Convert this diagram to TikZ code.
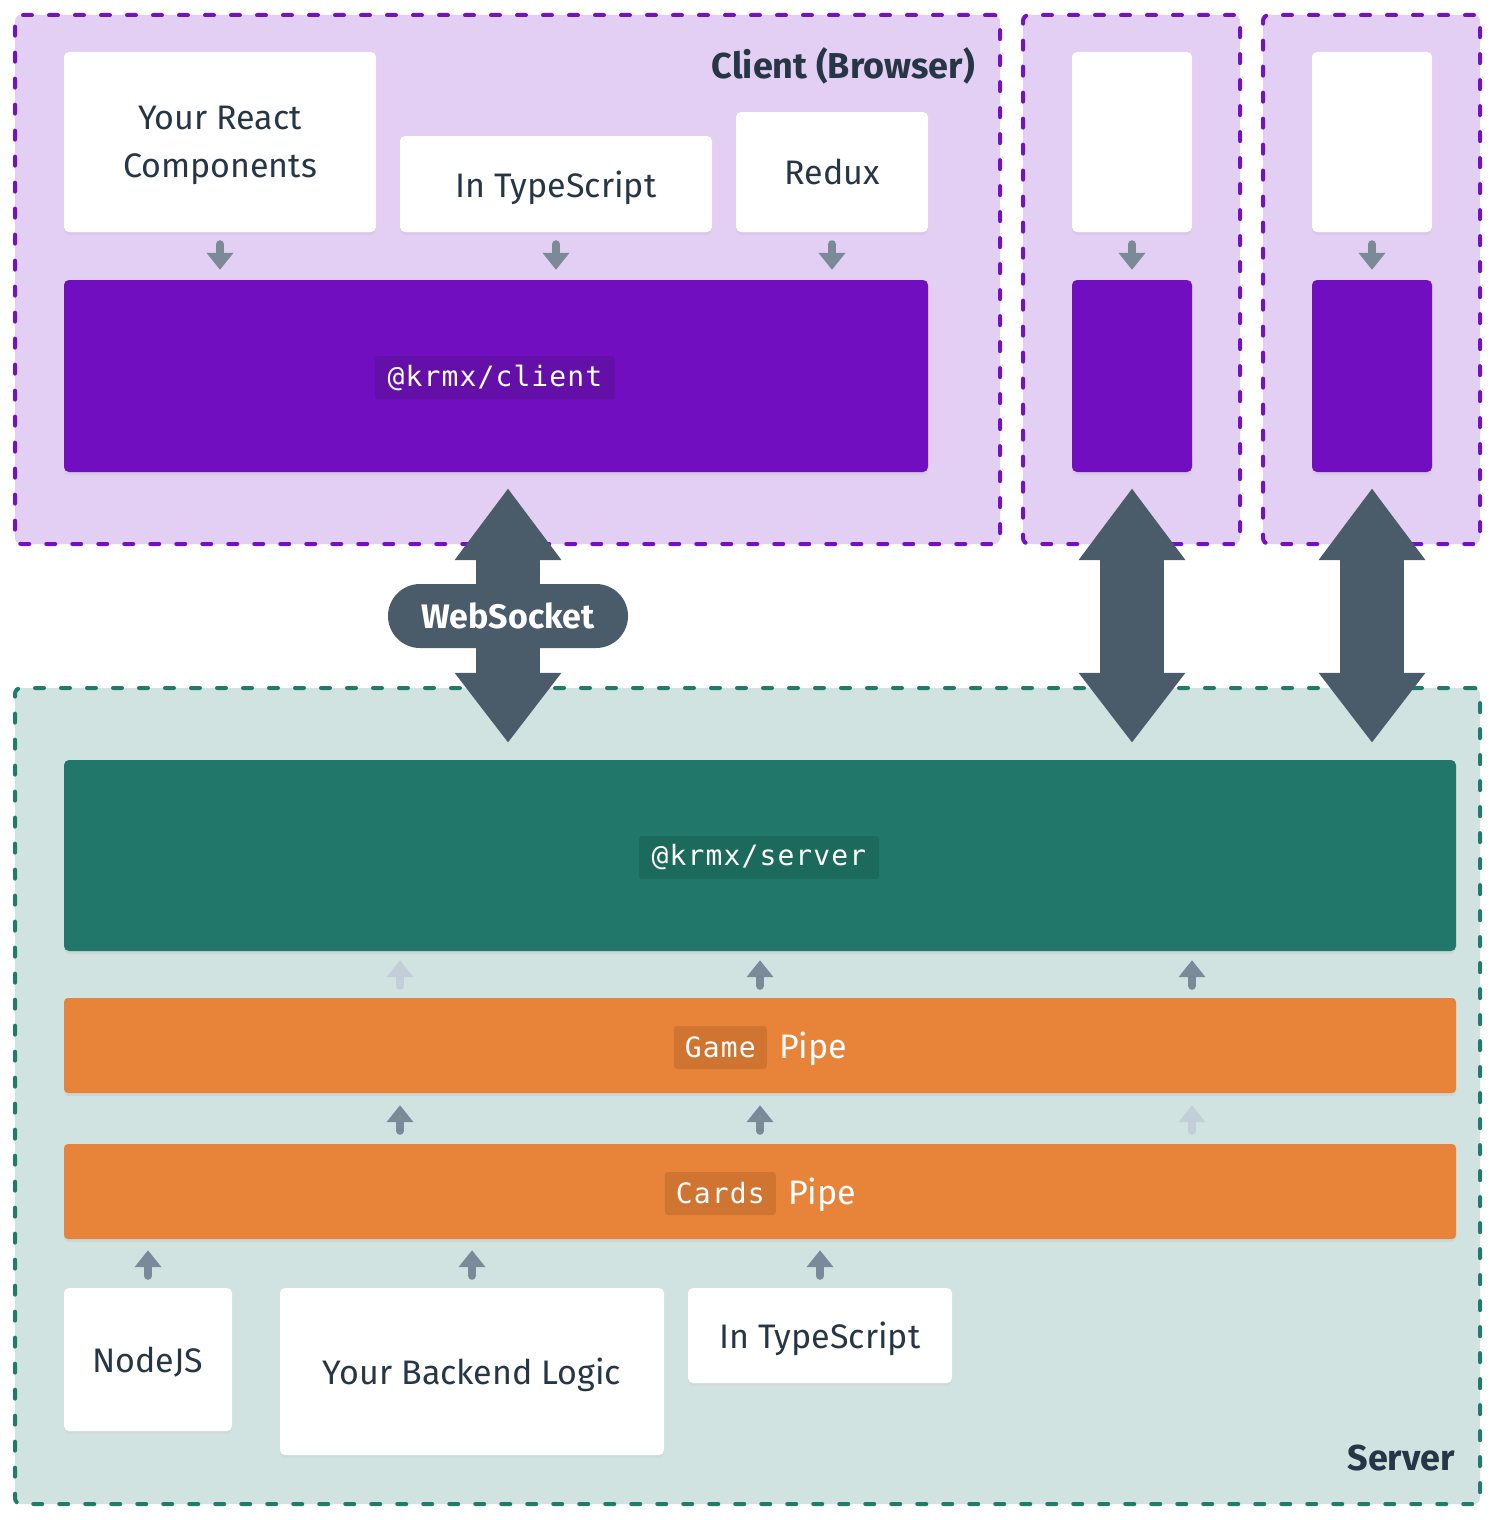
\documentclass[tikz,border=0pt]{standalone}
\usepackage{fontspec}
\setmainfont{Fira Sans}
\newfontfamily\codefont{DejaVu Sans Mono}[LetterSpace=4]
\usetikzlibrary{arrows.meta,calc,shadows}
\definecolor{czfill}{HTML}{E2CFF3}
\definecolor{czline}{HTML}{7411C4}
\definecolor{kpurple}{HTML}{710FC0}
\definecolor{kpurplecode}{HTML}{6410A8}
\definecolor{szfill}{HTML}{D1E3E1}
\definecolor{szline}{HTML}{217A6A}
\definecolor{kgreen}{HTML}{21786A}
\definecolor{kgreencode}{HTML}{1C6A5C}
\definecolor{korange}{HTML}{E8843A}
\definecolor{korangecode}{HTML}{D07432}
\definecolor{slate}{HTML}{4A5B6A}
\definecolor{ink}{HTML}{263646}
\definecolor{arrowc}{HTML}{7A8A99}
\definecolor{arrowfaint}{HTML}{C3CFD8}
\begin{document}
\begin{tikzpicture}[x=1pt,y=-1pt,
  zone/.style={rectangle,rounded corners=6pt,line width=4pt,dash pattern=on 9pt off 17pt,line cap=round,inner sep=0pt},
  clientzone/.style={zone,draw=czline,fill=czfill},
  serverzone/.style={zone,draw=szline,fill=szfill},
  wbox/.style={rectangle,rounded corners=5pt,fill=white,inner sep=0pt,text=ink,align=center,text depth=0pt,
    font=\fontsize{34}{48}\selectfont,drop shadow={shadow xshift=0pt,shadow yshift=-3pt,opacity=0.07}},
  cbox/.style={rectangle,rounded corners=5pt,fill=kpurple,inner sep=0pt,drop shadow={shadow xshift=0pt,shadow yshift=-3pt,opacity=0.10}},
  gbox/.style={rectangle,rounded corners=5pt,fill=kgreen,inner sep=0pt,drop shadow={shadow xshift=0pt,shadow yshift=-3pt,opacity=0.10}},
  obox/.style={rectangle,rounded corners=4pt,fill=korange,inner sep=0pt,drop shadow={shadow xshift=0pt,shadow yshift=-3pt,opacity=0.10}},
  codelbl/.style={rectangle,rounded corners=3pt,inner sep=0pt,minimum height=43pt,text=white,font=\codefont\fontsize{28}{30}\selectfont},
  pipetxt/.style={inner sep=0pt,text=white,font=\fontsize{34}{40}\selectfont},
  title/.style={inner sep=0pt,text=ink,font=\bfseries\fontsize{36}{40}\selectfont},
  sarrow/.style={line width=8pt,line cap=round,draw=arrowc,-{Triangle[length=17pt,width=26pt]}},
  farrow/.style={sarrow,draw=arrowfaint},
  bigarrow/.style={line width=64pt,draw=slate,{Triangle[length=72pt,width=102pt]}-{Triangle[length=70pt,width=102pt]}},
  pill/.style={rectangle,rounded corners=32pt,fill=slate,minimum width=240pt,minimum height=64pt,inner sep=0pt,text=white,font=\bfseries\fontsize{34}{40}\selectfont}
]
\useasboundingbox (0,0) rectangle (1496,1520);
\fill[white] (0,0) rectangle (1496,1520);

% zones
\node[clientzone,minimum width=985pt,minimum height=529pt] (cz1) at (507.5,279.5) {};
\node[clientzone,minimum width=217pt,minimum height=529pt] (cz2) at (1131.5,279.5) {};
\node[clientzone,minimum width=217pt,minimum height=529pt] (cz3) at (1371.5,279.5) {};
\node[serverzone,minimum width=1465pt,minimum height=816pt] (sz) at (747.5,1096) {};
\node[title,anchor=east] (ctitle) at (975,66) {Client (Browser)};
\node[title,anchor=east] (stitle) at (1455,1458) {Server};

% client boxes
\node[wbox,minimum width=312pt,minimum height=180pt] (react) at (220,142) {Your React\\Components};
\node[wbox,minimum width=312pt,minimum height=96pt] (ts1) at (556,184) {In TypeScript};
\node[wbox,minimum width=192pt,minimum height=120pt] (redux) at (832,172) {Redux};
\node[cbox,minimum width=864pt,minimum height=192pt] (kc) at (496,376) {};
\node[codelbl,fill=kpurplecode,minimum width=240pt] (kclbl) at (495,377.5) {@krmx/client};

\node[wbox,minimum width=120pt,minimum height=180pt] (w2) at (1132,142) {};
\node[cbox,minimum width=120pt,minimum height=192pt] (kc2) at (1132,376) {};
\node[wbox,minimum width=120pt,minimum height=180pt] (w3) at (1372,142) {};
\node[cbox,minimum width=120pt,minimum height=192pt] (kc3) at (1372,376) {};

\draw[sarrow] ($(react.south)+(0,12)$) -- ($(react.south |- kc.north)+(0,-10)$);
\draw[sarrow] ($(ts1.south)+(0,12)$) -- ($(ts1.south |- kc.north)+(0,-10)$);
\draw[sarrow] ($(redux.south)+(0,12)$) -- ($(redux.south |- kc.north)+(0,-10)$);
\draw[sarrow] ($(w2.south)+(0,12)$) -- ($(kc2.north)+(0,-10)$);
\draw[sarrow] ($(w3.south)+(0,12)$) -- ($(kc3.north)+(0,-10)$);

% server boxes
\node[gbox,minimum width=1392pt,minimum height=191pt] (ks) at (760,855.5) {};
\node[codelbl,fill=kgreencode,minimum width=240pt] (kslbl) at (759,857.5) {@krmx/server};
\node[obox,minimum width=1392pt,minimum height=95pt] (game) at (760,1045.5) {};
\node[codelbl,fill=korangecode,minimum width=93pt,anchor=east] (gamelbl) at (767,1047.5) {Game};
\node[pipetxt,anchor=west] (gamepipe) at (779,1049) {Pipe};
\node[obox,minimum width=1392pt,minimum height=95pt] (cards) at (760,1191.5) {};
\node[codelbl,fill=korangecode,minimum width=111pt,anchor=east] (cardslbl) at (776,1193.5) {Cards};
\node[pipetxt,anchor=west] (cardspipe) at (788,1195) {Pipe};

\node[wbox,minimum width=168pt,minimum height=143pt] (node) at (148,1359.5) {NodeJS};
\node[wbox,minimum width=384pt,minimum height=167pt] (backend) at (472,1371.5) {Your Backend Logic};
\node[wbox,minimum width=264pt,minimum height=95pt] (ts2) at (820,1335.5) {In TypeScript};

\draw[farrow] ($(game.north)+(-360,-12)$) -- ($(ks.south)+(-360,9)$);
\draw[sarrow] ($(game.north)+(0,-12)$) -- ($(ks.south)+(0,9)$);
\draw[sarrow] ($(game.north)+(432,-12)$) -- ($(ks.south)+(432,9)$);
\draw[sarrow] ($(cards.north)+(-360,-13)$) -- ($(game.south)+(-360,12)$);
\draw[sarrow] ($(cards.north)+(0,-13)$) -- ($(game.south)+(0,12)$);
\draw[farrow] ($(cards.north)+(432,-13)$) -- ($(game.south)+(432,12)$);
\draw[sarrow] ($(node.north)+(0,-12)$) -- ($(node.north |- cards.south)+(0,11)$);
\draw[sarrow] ($(backend.north)+(0,-12)$) -- ($(backend.north |- cards.south)+(0,11)$);
\draw[sarrow] ($(ts2.north)+(0,-12)$) -- ($(ts2.north |- cards.south)+(0,11)$);

% websocket arrows
\draw[bigarrow] ($(kc.south)+(12,16)$) -- ($(kc.south |- ks.north)+(12,-17)$);
\draw[bigarrow] ($(kc2.south)+(0,16)$) -- ($(kc2.south |- ks.north)+(0,-17)$);
\draw[bigarrow] ($(kc3.south)+(0,16)$) -- ($(kc3.south |- ks.north)+(0,-17)$);
\node[pill] (ws) at (508,616) {WebSocket};
\end{tikzpicture}
\end{document}
